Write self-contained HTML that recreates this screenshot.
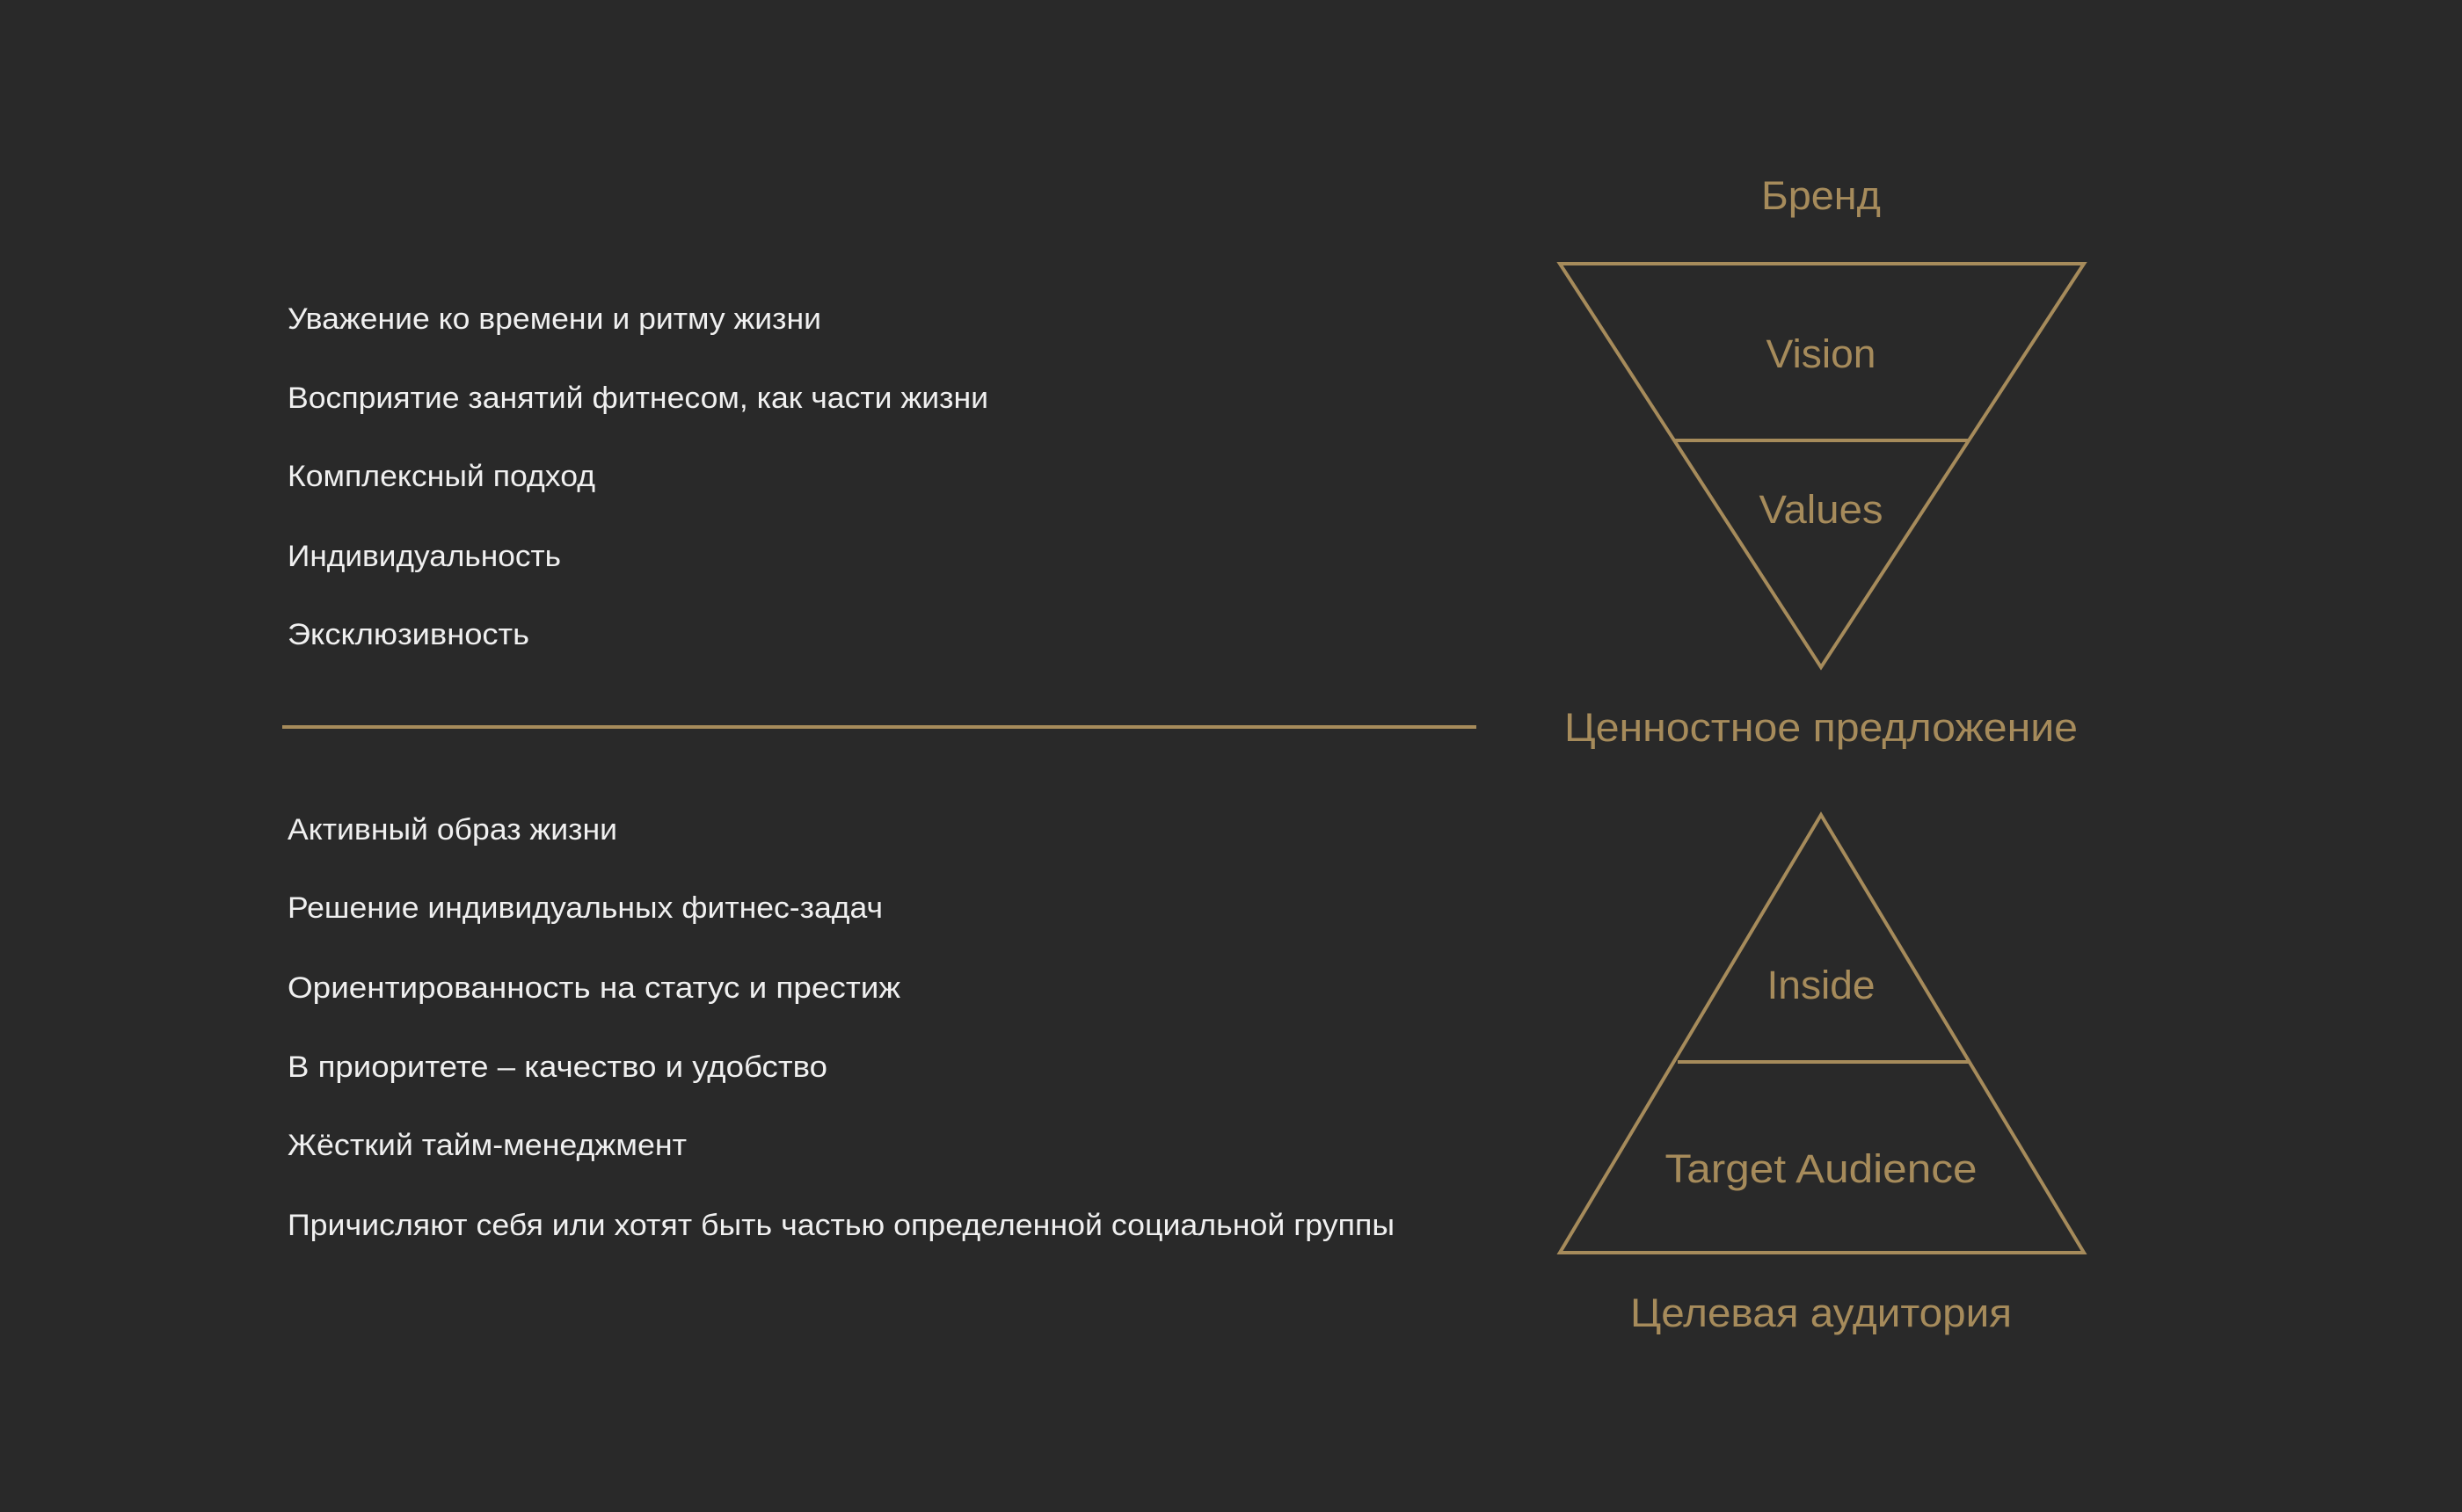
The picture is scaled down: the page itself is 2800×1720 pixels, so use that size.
<!DOCTYPE html>
<html><head><meta charset="utf-8"><style>
html,body{margin:0;padding:0;background:#292929;}
svg{display:block}
text{font-family:"Liberation Sans","DejaVu Sans",sans-serif;}
.w{fill:#f0f0f0;font-size:34px;}
.g{fill:#a68b5b;font-size:45px;}
</style></head><body>
<svg width="2800" height="1720" viewBox="0 0 2800 1720" xmlns="http://www.w3.org/2000/svg">
<rect width="2800" height="1720" fill="#292929"/>
<g stroke="#a68b5b" stroke-width="4" fill="none" stroke-linejoin="miter">
<polygon points="1774,300 2370,300 2071,759"/>
<line x1="1905" y1="501" x2="2238" y2="501"/>
<polygon points="2071,927 2370,1425 1774,1425"/>
<line x1="1908" y1="1208" x2="2240" y2="1208"/>
<line x1="321" y1="827" x2="1679" y2="827"/>
</g>
<g class="w">
<text x="327" y="374" textLength="607" lengthAdjust="spacingAndGlyphs">Уважение ко времени и ритму жизни</text>
<text x="327" y="464" textLength="797" lengthAdjust="spacingAndGlyphs">Восприятие занятий фитнесом, как части жизни</text>
<text x="327" y="553" textLength="350" lengthAdjust="spacingAndGlyphs">Комплексный подход</text>
<text x="327" y="644" textLength="311" lengthAdjust="spacingAndGlyphs">Индивидуальность</text>
<text x="327" y="733" textLength="275" lengthAdjust="spacingAndGlyphs">Эксклюзивность</text>
<text x="327" y="955" textLength="375" lengthAdjust="spacingAndGlyphs">Активный образ жизни</text>
<text x="327" y="1044" textLength="677" lengthAdjust="spacingAndGlyphs">Решение индивидуальных фитнес-задач</text>
<text x="327" y="1135" textLength="697" lengthAdjust="spacingAndGlyphs">Ориентированность на статус и престиж</text>
<text x="327" y="1225" textLength="614" lengthAdjust="spacingAndGlyphs">В приоритете – качество и удобство</text>
<text x="327" y="1314" textLength="454" lengthAdjust="spacingAndGlyphs">Жёсткий тайм-менеджмент</text>
<text x="327" y="1405" textLength="1259" lengthAdjust="spacingAndGlyphs">Причисляют себя или хотят быть частью определенной социальной группы</text>
</g>
<g class="g" text-anchor="middle">
<text x="2071" y="238" textLength="136" lengthAdjust="spacingAndGlyphs">Бренд</text>
<text x="2071" y="418" textLength="125" lengthAdjust="spacingAndGlyphs">Vision</text>
<text x="2071" y="595" textLength="141" lengthAdjust="spacingAndGlyphs">Values</text>
<text x="2071" y="843" textLength="584" lengthAdjust="spacingAndGlyphs">Ценностное предложение</text>
<text x="2071" y="1136" textLength="123" lengthAdjust="spacingAndGlyphs">Inside</text>
<text x="2071" y="1345" textLength="355" lengthAdjust="spacingAndGlyphs">Target Audience</text>
<text x="2071" y="1509" textLength="434" lengthAdjust="spacingAndGlyphs">Целевая аудитория</text>
</g>
</svg>
</body></html>
